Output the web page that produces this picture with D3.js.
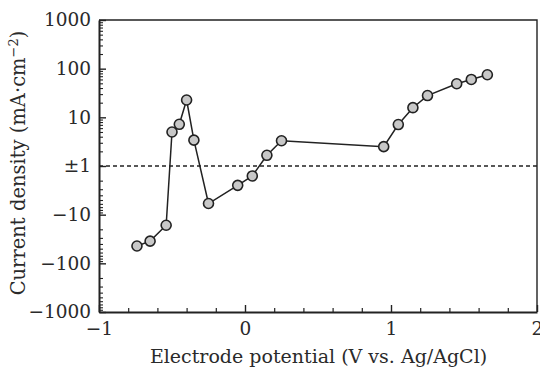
<!DOCTYPE html>
<html>
<head>
<meta charset="utf-8">
<script src="https://cdn.jsdelivr.net/npm/d3@7"></script>
<style>
  body { margin: 0; background: #fff; }
  svg { display: block; }
  text { font-family: "DejaVu Serif", "Liberation Serif", serif; fill: #2a2a2a; }
</style>
</head>
<body>
<svg id="chart" width="540" height="370"></svg>
<script>
// potential (V vs. Ag/AgCl)
var potential = [-0.74, -0.65, -0.54, -0.5, -0.45, -0.4, -0.35, -0.25, -0.05, 0.05, 0.15, 0.25,
                 0.95, 1.05, 1.15, 1.25, 1.45, 1.55, 1.66];
// current density (mA/cm2)
var current = [-44, -35, -16.5, 5.0, 7.2, 22.7, 3.4, -5.9, -2.5, -1.6, 1.66, 3.3,
               2.5, 7.1, 15.8, 28, 49, 60, 75];

var yTickVals = [1000, 100, 10, 1, -10, -100, -1000];
var yTickText = ['1000', '100', '10', '\u00b11', '\u221210', '\u2212100', '\u22121000'];
var xTickVals = [-1, 0, 1, 2];
var xTickText = ['\u22121', '0', '1', '2'];

var margin = {left: 99, right: 3, top: 20, bottom: 58};
var W = 540, H = 370;
var svg = d3.select('#chart');

// signed log: +-1 collapses to 0, each decade is one unit
function tf(v) {
  if (Math.abs(v) <= 1) return 0;
  return (v > 0 ? 1 : -1) * Math.log10(Math.abs(v));
}

var x = d3.scaleLinear().domain([-1, 2]).range([margin.left, W - margin.right]);
var yT = d3.scaleLinear().domain([-3, 3]).range([H - margin.bottom, margin.top]);
var y = function(v) { return yT(tf(v)); };

var x0 = margin.left, x1 = W - margin.right, y0 = H - margin.bottom, y1 = margin.top;

// frame (top/right)
svg.append('path')
  .attr('d', 'M' + x0 + ',' + y1 + 'H' + x1 + 'V' + y0)
  .attr('fill', 'none').attr('stroke', '#222').attr('stroke-width', 1.4);

// minor x ticks
var xMinor = d3.range(-1, 2.001, 0.2).filter(function(d) { return Math.abs(d - Math.round(d)) > 1e-6; });
svg.append('g').attr('transform', 'translate(0,' + y0 + ')')
  .call(d3.axisBottom(x).tickValues(xMinor).tickSize(-4).tickFormat(''))
  .call(function(g) { g.select('.domain').remove(); })
  .selectAll('line').attr('stroke', '#222').attr('stroke-width', 1.2);

// minor y ticks
var yMinor = [];
[1, 10, 100].forEach(function(dec) {
  for (var k = 2; k <= 9; k++) { yMinor.push(k * dec); yMinor.push(-k * dec); }
});
svg.append('g').attr('transform', 'translate(' + x0 + ',0)')
  .call(d3.axisLeft(yT).tickValues(yMinor.map(tf)).tickSize(-4).tickFormat(''))
  .call(function(g) { g.select('.domain').remove(); })
  .selectAll('line').attr('stroke', '#222').attr('stroke-width', 1.1);

// major x axis
var gx = svg.append('g').attr('transform', 'translate(0,' + y0 + ')')
  .call(d3.axisBottom(x).tickValues(xTickVals).tickSizeInner(-7).tickSizeOuter(0).tickPadding(10)
    .tickFormat(function(d, i) { return xTickText[i]; }));
gx.select('.domain').attr('stroke', '#222').attr('stroke-width', 2);
gx.selectAll('line').attr('stroke', '#222').attr('stroke-width', 1.4);
gx.selectAll('text').attr('font-size', 18.5).attr('font-family', '"DejaVu Serif", serif').attr('fill', '#2a2a2a');

// major y axis
var gy = svg.append('g').attr('transform', 'translate(' + x0 + ',0)')
  .call(d3.axisLeft(yT).tickValues(yTickVals.map(tf)).tickSizeInner(-7).tickSizeOuter(0).tickPadding(8)
    .tickFormat(function(d, i) { return yTickText[i]; }));
gy.select('.domain').attr('stroke', '#222').attr('stroke-width', 2);
gy.selectAll('line').attr('stroke', '#222').attr('stroke-width', 1.4);
gy.selectAll('text').attr('font-size', 18.5).attr('font-family', '"DejaVu Serif", serif').attr('fill', '#2a2a2a');

// dashed reference at +-1
svg.append('line')
  .attr('x1', x0).attr('x2', x1).attr('y1', y(1)).attr('y2', y(1))
  .attr('stroke', '#222').attr('stroke-width', 1.3).attr('stroke-dasharray', '4,3');

// data line + markers
var pts = potential.map(function(p, i) { return [p, current[i]]; });
svg.append('path').datum(pts)
  .attr('d', d3.line().x(function(d) { return x(d[0]); }).y(function(d) { return y(d[1]); }))
  .attr('fill', 'none').attr('stroke', '#222').attr('stroke-width', 1.5);

svg.append('g').selectAll('circle').data(pts).enter().append('circle')
  .attr('cx', function(d) { return x(d[0]); })
  .attr('cy', function(d) { return y(d[1]); })
  .attr('r', 5)
  .attr('fill', '#c8c8c8').attr('stroke', '#222').attr('stroke-width', 1.6);

// axis titles
svg.append('text')
  .attr('x', (x0 + x1) / 2 + 0.5).attr('y', 363)
  .attr('text-anchor', 'middle').attr('font-size', 19)
  .text('Electrode potential (V vs. Ag/AgCl)');

var yl = svg.append('text')
  .attr('transform', 'translate(25,' + 163 + ') rotate(-90)')
  .attr('text-anchor', 'middle').attr('font-size', 19.5);
yl.append('tspan').text('Current density (mA\u00b7cm');
yl.append('tspan').attr('dy', -7).attr('font-size', 13).text('\u22122');
yl.append('tspan').attr('dy', 7).text(')');
</script>
</body>
</html>
